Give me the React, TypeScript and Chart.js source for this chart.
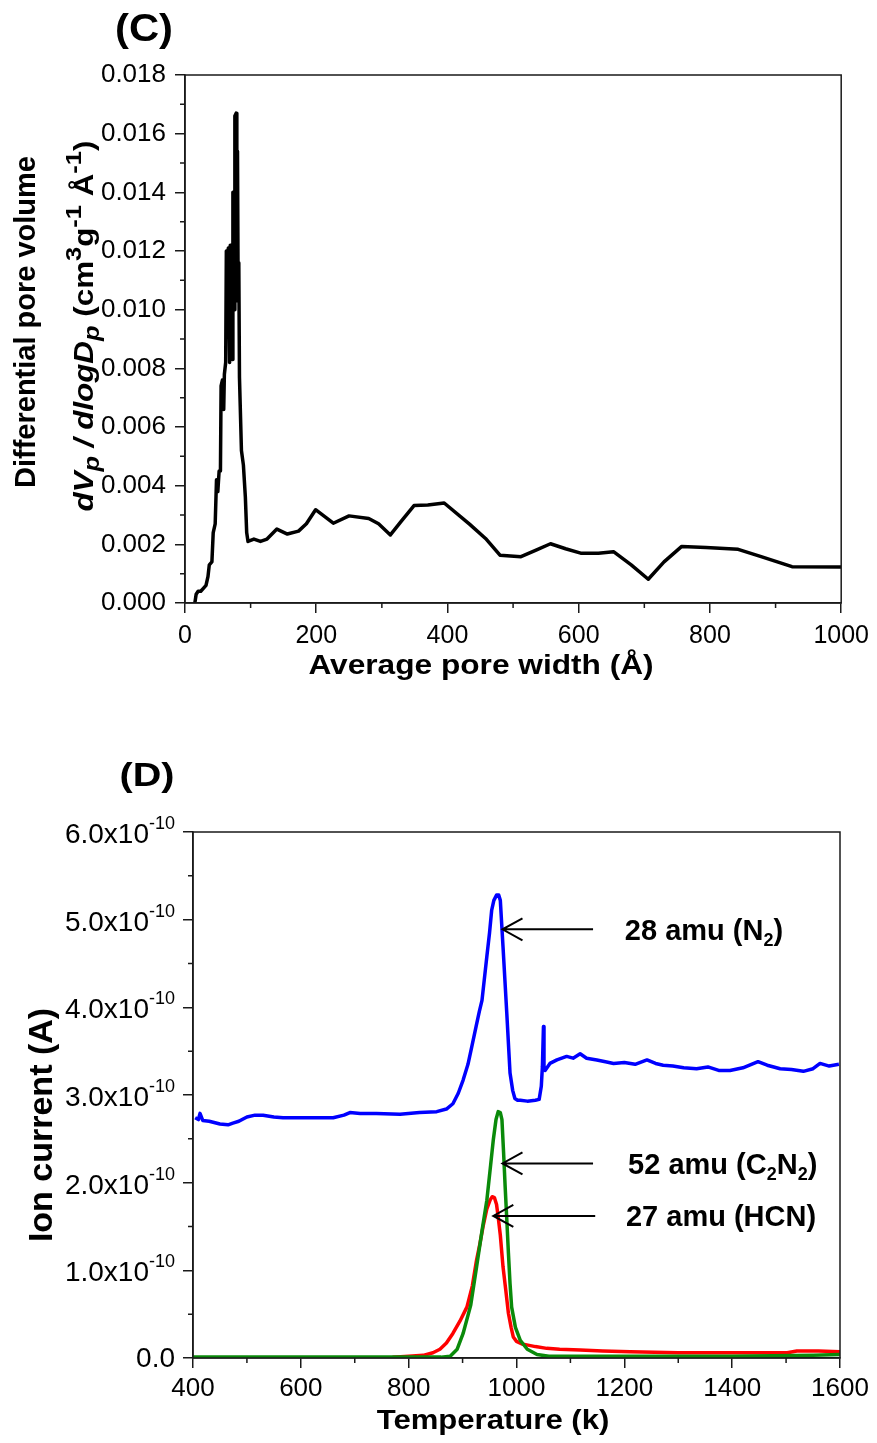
import React, { useEffect, useRef } from "react";
import { Chart, registerables } from "chart.js";

Chart.register(...registerables);

const FAM = '"Liberation Sans", Arial, Helvetica, sans-serif';

// ---------------- Panel (C): pore size distribution ----------------
const poreWidth = [
  15, 17, 20, 24, 28, 32, 35, 37, 41, 43,
  46, 48, 50, 52, 54, 55, 57, 59, 60, 62,
  63, 65, 66, 68, 69, 70, 71, 72, 73, 75,
  76, 78, 79, 80, 81, 82, 83, 86, 89, 92,
  94, 96, 105, 115, 125, 140, 156, 173, 185, 199,
  226, 250, 280, 295, 313, 330, 349, 370, 395, 434,
  458, 480, 512, 535, 557, 580, 603, 630, 653, 680,
  706, 730, 757, 794, 843, 878, 925, 1000,
];
const poreVolume = [
  0.0, 0.0003, 0.0004, 0.0004, 0.0005, 0.0006, 0.0009, 0.0013, 0.0014, 0.0024,
  0.0027, 0.0042, 0.0038, 0.0045, 0.0045, 0.0074, 0.0076, 0.0066, 0.0078, 0.0082,
  0.012, 0.0093, 0.0121, 0.0082, 0.0122, 0.0088, 0.0121, 0.0083, 0.014, 0.01,
  0.0166, 0.0167, 0.0103, 0.0154, 0.0105, 0.0116, 0.0077, 0.0052, 0.0047, 0.0036,
  0.0024, 0.0021, 0.00218, 0.0021, 0.00218, 0.00252, 0.00235, 0.00245, 0.0027, 0.00318,
  0.00272, 0.00297, 0.00288, 0.0027, 0.00232, 0.0028, 0.00332, 0.00334, 0.00341, 0.00268,
  0.0022, 0.00163, 0.00158, 0.0018, 0.00202, 0.00185, 0.0017, 0.0017, 0.00175, 0.0013,
  0.00081, 0.0014, 0.00193, 0.00189, 0.00183, 0.00158, 0.00124, 0.00123,
];
const poreXMin = 0;
const poreXMax = 1000;
const poreXStep = 200;
const poreYMin = 0;
const poreYMax = 0.018;
const poreYStep = 0.002;

// ---------------- Panel (D): ion current (units of 1e-10 A) ----------------
const tempN2 = [
  404, 410, 413, 418, 430, 450, 465, 474, 485, 500,
  515, 530, 550, 567, 600, 630, 660, 680, 691, 710,
  740, 784, 820, 852, 870, 882, 892, 901, 910, 917,
  925, 931, 936, 945, 950, 954, 958, 963, 967, 970,
  975, 982, 988, 993, 997, 1002, 1007, 1020, 1035, 1042,
  1046, 1048, 1050, 1051, 1053, 1062, 1075, 1093, 1105, 1118,
  1130, 1149, 1165, 1180, 1200, 1220, 1242, 1258, 1272, 1290,
  1310, 1334, 1355, 1375, 1396, 1420, 1448, 1465, 1489, 1510,
  1532, 1550, 1563, 1580, 1598,
];
const ionN2 = [
  2.74, 2.72, 2.79, 2.71, 2.7, 2.67, 2.66, 2.68, 2.7, 2.75,
  2.77, 2.77, 2.75, 2.74, 2.74, 2.74, 2.74, 2.77, 2.8, 2.79,
  2.79, 2.78, 2.8, 2.81, 2.84, 2.9, 3.02, 3.17, 3.35, 3.55,
  3.78, 3.95, 4.08, 4.58, 4.85, 5.11, 5.22, 5.28, 5.28, 5.22,
  4.69, 3.93, 3.25, 3.05, 2.96, 2.94, 2.94, 2.93, 2.94, 2.95,
  3.1, 3.32, 3.78, 3.3, 3.28, 3.36, 3.4, 3.44, 3.42, 3.47,
  3.42, 3.4, 3.38, 3.36, 3.37, 3.35, 3.4, 3.36, 3.34, 3.33,
  3.31, 3.3, 3.32, 3.28, 3.28, 3.31, 3.38, 3.34, 3.3, 3.29,
  3.27, 3.3, 3.36, 3.33, 3.35,
];
const tempC2N2 = [
  400, 600, 800, 860, 877, 890, 901, 915, 926, 936,
  945, 952, 957, 962, 966, 970, 973, 976, 979, 982,
  985, 988, 991, 998, 1007, 1020, 1038, 1060, 1200, 1400,
  1550, 1600,
];
const ionC2N2 = [
  0.01, 0.01, 0.01, 0.01, 0.02, 0.1, 0.28, 0.6, 1.04, 1.45,
  1.8, 2.2, 2.49, 2.72, 2.81, 2.8, 2.72, 2.35, 1.95, 1.58,
  1.2, 0.85, 0.58, 0.35, 0.2, 0.1, 0.04, 0.02, 0.02, 0.02,
  0.03, 0.04,
];
const tempHCN = [
  770, 800, 827, 845, 858, 870, 882, 895, 908, 918,
  926, 932, 938, 945, 951, 955, 959, 963, 966, 970,
  975, 980, 985, 990, 994, 1000, 1010, 1019, 1035, 1056,
  1080, 1118, 1160, 1211, 1300, 1400, 1502, 1520, 1560, 1600,
];
const ionHCN = [
  0.01, 0.02, 0.03, 0.06, 0.1, 0.17, 0.28, 0.42, 0.58, 0.82,
  1.12, 1.3, 1.5, 1.7, 1.8, 1.84, 1.83, 1.75, 1.61, 1.4,
  1.04, 0.78, 0.51, 0.35, 0.24, 0.19, 0.16, 0.15, 0.13, 0.11,
  0.1, 0.09, 0.08, 0.07, 0.06, 0.06, 0.06, 0.08, 0.08, 0.07,
];
const tempMin = 400;
const tempMax = 1600;
const tempStep = 200;
const ionMin = 0;
const ionMax = 6;
const ionStep = 1;

// annotation arrows (data coordinates)
const arrowTipT = [974, 974, 957];
const arrowTipI = [4.89, 2.22, 1.62];
const arrowTailT = [1142, 1142, 1146];
const arrowTextT = [1201, 1207, 1203];

type Seg = { t: string; k?: "sub" | "sup"; i?: boolean };

const arrowText: Seg[][] = [
  [{ t: "28 amu (N" }, { t: "2", k: "sub" }, { t: ")" }],
  [{ t: "52 amu (C" }, { t: "2", k: "sub" }, { t: "N" }, { t: "2", k: "sub" }, { t: ")" }],
  [{ t: "27 amu (HCN)" }],
];

type RichOpts = {
  fs: number;
  bold?: boolean;
  align?: "left" | "center" | "right";
  rot?: number;
  sx?: number;
  ss?: number;
  supDy?: number;
  subDy?: number;
};

function drawRich(ctx: CanvasRenderingContext2D, segs: Seg[], x: number, y: number, o: RichOpts) {
  const bold = o.bold ?? true;
  const sx = o.sx ?? 1;
  const ss = o.ss ?? 0.62;
  const fs = o.fs;
  const font = (s: Seg) =>
    `${s.i ? "italic " : ""}${bold ? "bold " : ""}${Math.round(s.k ? fs * ss : fs)}px ${FAM}`;
  ctx.save();
  ctx.translate(x, y);
  if (o.rot) ctx.rotate(o.rot);
  ctx.scale(sx, 1);
  let total = 0;
  const ws = segs.map((s) => {
    ctx.font = font(s);
    const w = ctx.measureText(s.t).width;
    total += w;
    return w;
  });
  let cx = o.align === "left" ? 0 : o.align === "right" ? -total : -total / 2;
  const base = 0.358 * fs;
  ctx.fillStyle = "#000";
  ctx.textAlign = "left";
  ctx.textBaseline = "alphabetic";
  segs.forEach((s, i) => {
    ctx.font = font(s);
    const dy = s.k === "sub" ? (o.subDy ?? 0.22) * fs : s.k === "sup" ? (o.supDy ?? -0.42) * fs : 0;
    ctx.fillText(s.t, cx, base + dy);
    cx += ws[i];
  });
  ctx.restore();
}

const AXIS_COLOR = "#1a1a1a";
const gridOpts = {
  display: true,
  drawOnChartArea: false,
  drawTicks: true,
  tickLength: 10,
  color: AXIS_COLOR,
  lineWidth: 1.5,
};
const borderOpts = { display: true, color: AXIS_COLOR, width: 1.5 };

function drawFrameAndMinor(chart: any) {
  const { ctx, chartArea: a, scales } = chart;
  const xs = scales.x;
  const ys = scales.y;
  ctx.save();
  ctx.strokeStyle = AXIS_COLOR;
  ctx.lineWidth = 1.5;
  ctx.strokeRect(a.left, a.top, a.right - a.left, a.bottom - a.top);
  ctx.beginPath();
  for (let i = 0; i < xs.ticks.length - 1; i++) {
    const v = (xs.ticks[i].value + xs.ticks[i + 1].value) / 2;
    const p = xs.getPixelForValue(v);
    ctx.moveTo(p, a.bottom);
    ctx.lineTo(p, a.bottom + 5);
  }
  for (let i = 0; i < ys.ticks.length - 1; i++) {
    const v = (ys.ticks[i].value + ys.ticks[i + 1].value) / 2;
    const p = ys.getPixelForValue(v);
    ctx.moveTo(a.left, p);
    ctx.lineTo(a.left - 5, p);
  }
  ctx.stroke();
  ctx.restore();
}

function configC(): any {
  return {
    type: "line",
    data: {
      datasets: [
        {
          data: poreWidth.map((x, i) => ({ x, y: poreVolume[i] })),
          borderColor: "#000",
          borderWidth: 3.5,
          pointRadius: 0,
          fill: false,
          tension: 0,
          borderJoinStyle: "round",
        },
      ],
    },
    options: {
      animation: false,
      responsive: false,
      devicePixelRatio: 1,
      layout: { padding: { top: 75, right: 35, left: 0, bottom: 0 } },
      plugins: { legend: { display: false }, tooltip: { enabled: false } },
      scales: {
        x: {
          type: "linear",
          min: poreXMin,
          max: poreXMax,
          afterFit: (s: any) => {
            s.height = 117;
          },
          ticks: {
            stepSize: poreXStep,
            maxRotation: 0,
            padding: 8,
            color: "#000",
            font: { family: FAM, size: 25 },
            callback: (v: any) => String(v),
          },
          grid: gridOpts,
          border: borderOpts,
        },
        y: {
          type: "linear",
          min: poreYMin,
          max: poreYMax,
          afterFit: (s: any) => {
            s.width = 185;
          },
          ticks: {
            stepSize: poreYStep,
            padding: 9,
            color: "#000",
            font: { family: FAM, size: 26 },
            callback: (v: any) => Number(v).toFixed(3),
          },
          grid: gridOpts,
          border: borderOpts,
        },
      },
    },
    plugins: [
      {
        id: "panelC",
        afterDraw(chart: any) {
          const ctx = chart.ctx as CanvasRenderingContext2D;
          drawFrameAndMinor(chart);
          drawRich(ctx, [{ t: "(C)" }], 144, 27, { fs: 38, sx: 1.1 });
          drawRich(ctx, [{ t: "Average pore width (Å)" }], 481, 664, { fs: 28, sx: 1.13 });
          drawRich(ctx, [{ t: "Differential pore volume" }], 25, 322, { fs: 29, rot: -Math.PI / 2 });
          drawRich(
            ctx,
            [
              { t: "dV", i: true },
              { t: "p", i: true, k: "sub" },
              { t: " / dlogD", i: true },
              { t: "p", i: true, k: "sub" },
              { t: " (cm" },
              { t: "3", k: "sup" },
              { t: "g" },
              { t: "-1", k: "sup" },
              { t: " Å" },
              { t: "-1", k: "sup" },
              { t: ")" },
            ],
            83,
            326,
            { fs: 27, rot: -Math.PI / 2, sx: 1.16, ss: 0.8, supDy: -0.45, subDy: 0.25 }
          );
        },
      },
    ],
  };
}

function configD(): any {
  const mk = (t: number[], v: number[], color: string, w: number) => ({
    data: t.map((x, i) => ({ x, y: v[i] })),
    borderColor: color,
    borderWidth: w,
    pointRadius: 0,
    fill: false,
    tension: 0,
    borderJoinStyle: "round",
  });
  return {
    type: "line",
    data: {
      datasets: [
        mk(tempC2N2, ionC2N2, "#0a8a0a", 3.5),
        mk(tempHCN, ionHCN, "#ff0000", 3.5),
        mk(tempN2, ionN2, "#0000ff", 3.5),
      ],
    },
    options: {
      animation: false,
      responsive: false,
      devicePixelRatio: 1,
      layout: { padding: { top: 112, right: 37, left: 0, bottom: 0 } },
      plugins: { legend: { display: false }, tooltip: { enabled: false } },
      scales: {
        x: {
          type: "linear",
          min: tempMin,
          max: tempMax,
          afterFit: (s: any) => {
            s.height = 85;
          },
          ticks: {
            stepSize: tempStep,
            maxRotation: 0,
            padding: 5,
            color: "#000",
            font: { family: FAM, size: 26 },
            callback: (v: any) => String(v),
          },
          grid: gridOpts,
          border: borderOpts,
        },
        y: {
          type: "linear",
          min: ionMin,
          max: ionMax,
          afterFit: (s: any) => {
            s.width = 193;
          },
          ticks: {
            stepSize: ionStep,
            padding: 8,
            color: "rgba(0,0,0,0)",
            font: { family: FAM, size: 26 },
            callback: (v: any) => Number(v).toFixed(1),
          },
          grid: gridOpts,
          border: borderOpts,
        },
      },
    },
    plugins: [
      {
        id: "panelD",
        afterDraw(chart: any) {
          const ctx = chart.ctx as CanvasRenderingContext2D;
          drawFrameAndMinor(chart);
          const xs = chart.scales.x;
          const ys = chart.scales.y;
          // y tick labels with superscript exponent
          ys.ticks.forEach((tk: any) => {
            const v = tk.value;
            const py = ys.getPixelForValue(v);
            if (Math.abs(v) < 1e-9) {
              drawRich(ctx, [{ t: "0.0" }], 175, py - 1, { fs: 28, bold: false, align: "right" });
            } else {
              drawRich(ctx, [{ t: v.toFixed(1) + "x10" }, { t: "-10", k: "sup" }], 175, py + 1, {
                fs: 28,
                bold: false,
                align: "right",
                ss: 0.64,
                supDy: -0.5,
              });
            }
          });
          // arrows + labels
          ctx.save();
          ctx.strokeStyle = "#000";
          ctx.lineWidth = 2;
          for (let i = 0; i < arrowTipT.length; i++) {
            const tx = xs.getPixelForValue(arrowTipT[i]);
            const ty = ys.getPixelForValue(arrowTipI[i]);
            const ex = xs.getPixelForValue(arrowTailT[i]);
            ctx.beginPath();
            ctx.moveTo(tx, ty);
            ctx.lineTo(ex, ty);
            ctx.moveTo(tx + 20, ty - 11);
            ctx.lineTo(tx, ty);
            ctx.lineTo(tx + 20, ty + 11);
            ctx.stroke();
            drawRich(ctx, arrowText[i], xs.getPixelForValue(arrowTextT[i]), ty, {
              fs: 29,
              align: "left",
              ss: 0.62,
              subDy: 0.22,
            });
          }
          ctx.restore();
          // titles
          drawRich(ctx, [{ t: "(D)" }], 147, 54, { fs: 33, sx: 1.2 });
          drawRich(ctx, [{ t: "Temperature (k)" }], 493, 699, { fs: 28, sx: 1.11 });
          drawRich(ctx, [{ t: "Ion current (A)" }], 40, 405, { fs: 34, rot: -Math.PI / 2 });
        },
      },
    ],
  };
}

export default function App() {
  const cRef = useRef<HTMLCanvasElement>(null);
  const dRef = useRef<HTMLCanvasElement>(null);
  useEffect(() => {
    const c1 = new Chart(cRef.current as HTMLCanvasElement, configC());
    const c2 = new Chart(dRef.current as HTMLCanvasElement, configD());
    return () => {
      c1.destroy();
      c2.destroy();
    };
  }, []);
  return (
    <div style={{ position: "absolute", left: 0, top: 0, width: 877, height: 1443, background: "#fff" }}>
      <canvas
        ref={cRef}
        width={877}
        height={720}
        style={{ position: "absolute", left: 0, top: 0, width: 877, height: 720 }}
      />
      <canvas
        ref={dRef}
        width={877}
        height={723}
        style={{ position: "absolute", left: 0, top: 720, width: 877, height: 723 }}
      />
    </div>
  );
}
